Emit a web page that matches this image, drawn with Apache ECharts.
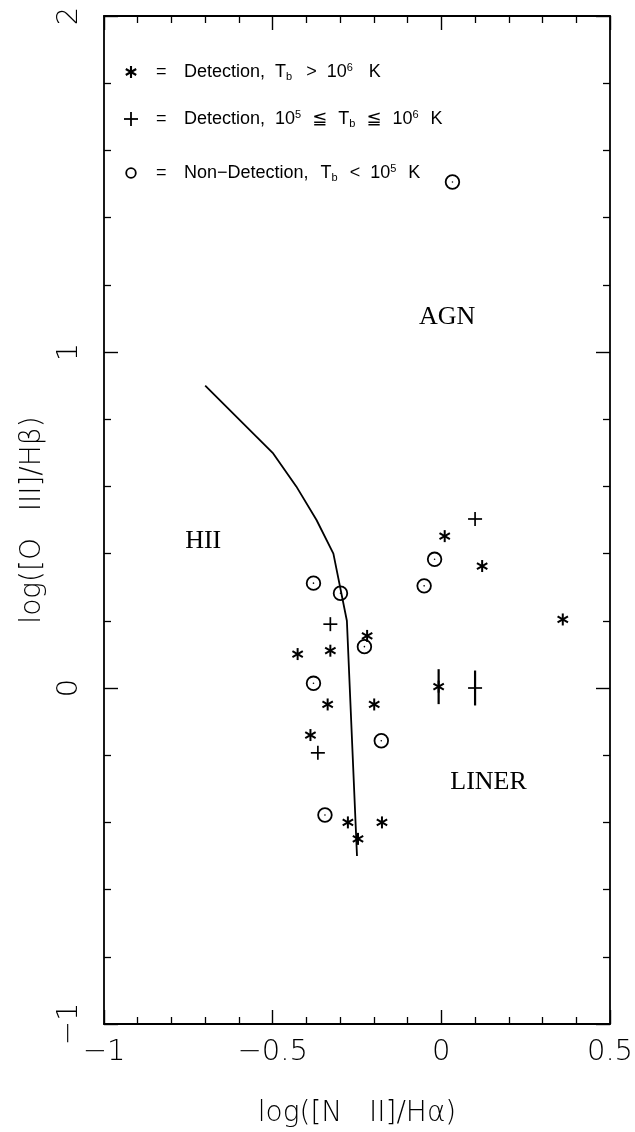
<!DOCTYPE html>
<html>
<head>
<meta charset="utf-8">
<script src="https://cdn.jsdelivr.net/npm/echarts@6/dist/echarts.min.js"></script>
<style>
  html, body { margin: 0; padding: 0; background: #fff; }
  #chart { width: 635px; height: 1132px; }
</style>
</head>
<body>
<div id="chart"></div>
<script>
// detections, Tb > 1e6 K
const starPts = [
  [-0.220, 0.155], [-0.426, 0.101], [-0.329, 0.111], [-0.337, -0.049],
  [-0.199, -0.049], [-0.388, -0.140], [-0.277, -0.400], [-0.176, -0.400],
  [-0.247, -0.449], [0.010, 0.452], [-0.008, 0.004], [0.121, 0.363],
  [0.360, 0.204]
];
// detections, 1e5 <= Tb <= 1e6 K
const plusPts = [
  [-0.329, 0.190], [-0.366, -0.193], [0.100, 0.503], [0.100, 0.000]
];
// non-detections
const circlePts = [
  [-0.379, 0.312], [-0.299, 0.282], [-0.228, 0.123], [-0.379, 0.014],
  [-0.178, -0.157], [-0.345, -0.378], [-0.020, 0.383], [-0.051, 0.304],
  [0.033, 1.506]
];
// vertical error bars: x, low, high
const errBars = [
  [-0.008, -0.048, 0.056],
  [0.100, -0.052, 0.052]
];
// HII / AGN dividing curve
const curveX = [-0.70, -0.50, -0.43, -0.37, -0.32, -0.28, -0.25];
const curveY = [0.90, 0.70, 0.60, 0.50, 0.40, 0.20, -0.50];
// region labels
const regionNames = ['AGN', 'HII', 'LINER'];
const regionPos = [[0.017, 1.105], [-0.706, 0.438], [0.140, -0.279]];

const black = '#000';
const minus = v => (v < 0 ? '\u2212' + (-v) : String(v));

function starLines(cx, cy, r, lw) {
  const kids = [];
  for (let k = 0; k < 3; k++) {
    const a = Math.PI / 2 + k * Math.PI / 3;
    kids.push({
      type: 'line',
      shape: { x1: cx + r * Math.cos(a), y1: cy - r * Math.sin(a), x2: cx - r * Math.cos(a), y2: cy + r * Math.sin(a) },
      style: { stroke: black, lineWidth: lw }
    });
  }
  return kids;
}

function starItem(params, api) {
  const p = api.coord([api.value(0), api.value(1)]);
  return { type: 'group', children: starLines(p[0], p[1], 6, 2) };
}

function plusItem(params, api) {
  const p = api.coord([api.value(0), api.value(1)]);
  const r = 7;
  return {
    type: 'group',
    children: [
      { type: 'line', shape: { x1: p[0] - r, y1: p[1], x2: p[0] + r, y2: p[1] }, style: { stroke: black, lineWidth: 1.7 } },
      { type: 'line', shape: { x1: p[0], y1: p[1] - r, x2: p[0], y2: p[1] + r }, style: { stroke: black, lineWidth: 1.7 } }
    ]
  };
}

function circleItem(params, api) {
  const p = api.coord([api.value(0), api.value(1)]);
  return {
    type: 'group',
    children: [
      { type: 'circle', shape: { cx: p[0], cy: p[1], r: 6.8 }, style: { fill: 'none', stroke: black, lineWidth: 1.8 } },
      { type: 'circle', shape: { cx: p[0], cy: p[1], r: 0.8 }, style: { fill: black } }
    ]
  };
}

function errItem(params, api) {
  const lo = api.coord([api.value(0), api.value(1)]);
  const hi = api.coord([api.value(0), api.value(2)]);
  return { type: 'line', shape: { x1: lo[0], y1: lo[1], x2: hi[0], y2: hi[1] }, style: { stroke: black, lineWidth: 2.2 } };
}

function regionItem(params, api) {
  const p = api.coord([api.value(0), api.value(1)]);
  return {
    type: 'text', x: p[0], y: p[1],
    style: { text: regionNames[params.dataIndex], fill: black, font: '26px "Liberation Serif"', align: 'center', verticalAlign: 'middle' }
  };
}

const tickFont = { fontSize: 29, color: black, fontFamily: 'DejaVu Sans', fontWeight: 300 };
const titleFont = { fontSize: 28, color: black, fontFamily: 'DejaVu Sans', fontWeight: 300 };
const axisCommon = {
  type: 'value',
  axisLine: { show: true, onZero: false, lineStyle: { color: black, width: 1.8 } },
  axisTick: { show: true, inside: true, length: 14, lineStyle: { color: black, width: 1.4 } },
  minorTick: { show: true, splitNumber: 5, length: 7, lineStyle: { color: black, width: 1.3 } },
  splitLine: { show: false }
};

// legend
const legFont = 'Liberation Sans, DejaVu Sans';
const legRich = {
  sub: { fontSize: 11, fontFamily: legFont, fill: black, padding: [9, 0, 0, 0] },
  sup: { fontSize: 11, fontFamily: legFont, fill: black, padding: [0, 0, 9, 0] },
  le: { fontSize: 18, fontFamily: 'DejaVu Sans', fill: black },
  g10: { width: 10 }, g11: { width: 11 }, g12: { width: 12 }, g14: { width: 14 },
  g16: { width: 16 }, g18: { width: 17.5 }
};
const legRows = [
  '={g18| }Detection,{g10| }T{sub|b}{g14| }>{g10| }10{sup|6}{g16| }K',
  '={g18| }Detection,{g10| }10{sup|5}{g11| }{le|\u2266}{g11| }T{sub|b}{g11| }{le|\u2266}{g11| }10{sup|6}{g12| }K',
  '={g18| }Non\u2212Detection,{g12| }T{sub|b}{g12| }<{g10| }10{sup|5}{g12| }K'
];
const legY = [72, 119, 173];
const legX = 131;
const graphic = [];
legRows.forEach((t, i) => {
  graphic.push({
    type: 'text', x: 156, y: legY[i],
    style: { text: t, fontSize: 18, fontFamily: legFont, fill: black, verticalAlign: 'middle', rich: legRich }
  });
});
// legend symbols
starLines(legX, legY[0], 6, 2.1).forEach(l => graphic.push(l));
graphic.push({ type: 'line', shape: { x1: legX - 7, y1: legY[1], x2: legX + 7, y2: legY[1] }, style: { stroke: black, lineWidth: 1.8 } });
graphic.push({ type: 'line', shape: { x1: legX, y1: legY[1] - 7, x2: legX, y2: legY[1] + 7 }, style: { stroke: black, lineWidth: 1.8 } });
graphic.push({ type: 'circle', shape: { cx: legX, cy: legY[2], r: 4.8 }, style: { fill: 'none', stroke: black, lineWidth: 1.8 } });

const option = {
  animation: false,
  backgroundColor: '#fff',
  grid: { left: 104, right: 25, top: 16, bottom: 108, outerBoundsMode: 'none' },
  xAxis: [
    Object.assign({}, axisCommon, {
      min: -1, max: 0.5, interval: 0.5, position: 'bottom',
      axisLabel: Object.assign({ margin: 14, showMinLabel: true, showMaxLabel: true, formatter: minus }, tickFont),
      name: 'log([N   II]/H\u03b1)', nameLocation: 'middle', nameGap: 76,
      nameTextStyle: titleFont
    }),
    Object.assign({}, axisCommon, {
      min: -1, max: 0.5, interval: 0.5, position: 'top', axisLabel: { show: false }
    })
  ],
  yAxis: [
    Object.assign({}, axisCommon, {
      min: -1, max: 2, interval: 1, position: 'left',
      axisLabel: Object.assign({ margin: 20, rotate: 90, showMinLabel: true, showMaxLabel: true, formatter: minus }, tickFont),
      name: 'log([O   III]/H\u03b2)', nameLocation: 'middle', nameGap: 57,
      nameTextStyle: titleFont
    }),
    Object.assign({}, axisCommon, {
      min: -1, max: 2, interval: 1, position: 'right', axisLabel: { show: false }
    })
  ],
  graphic: graphic,
  series: [
    {
      type: 'line', data: curveX.map((x, i) => [x, curveY[i]]), symbol: 'none',
      lineStyle: { color: black, width: 1.8 }, xAxisIndex: 0, yAxisIndex: 0
    },
    { type: 'custom', data: errBars, renderItem: errItem, xAxisIndex: 0, yAxisIndex: 0 },
    { type: 'custom', data: starPts, renderItem: starItem, xAxisIndex: 0, yAxisIndex: 0 },
    { type: 'custom', data: plusPts, renderItem: plusItem, xAxisIndex: 0, yAxisIndex: 0 },
    { type: 'custom', data: circlePts, renderItem: circleItem, xAxisIndex: 0, yAxisIndex: 0 },
    { type: 'custom', data: regionPos, renderItem: regionItem, xAxisIndex: 0, yAxisIndex: 0 }
  ]
};

const chart = echarts.init(document.getElementById('chart'));
chart.setOption(option);
</script>
</body>
</html>
